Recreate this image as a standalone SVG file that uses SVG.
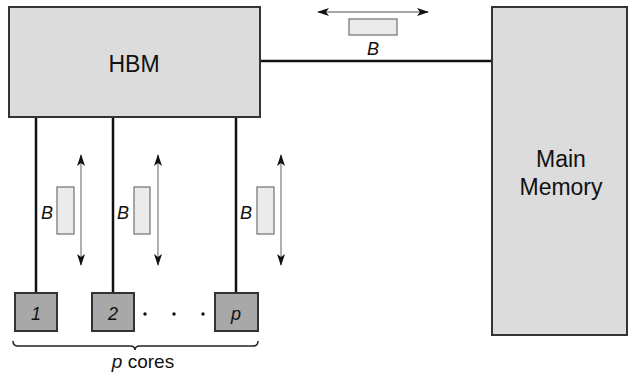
<svg xmlns="http://www.w3.org/2000/svg" width="628" height="373" viewBox="0 0 628 373">
<style>
.big{fill:#dcdcdc;stroke:#333;stroke-width:2}
.core{fill:#a8a8a8;stroke:#333;stroke-width:2}
.pkt{fill:#ebebeb;stroke:#7a7a7a;stroke-width:1.3}
.wire{stroke:#111;stroke-width:2.5;fill:none}
.arr{stroke:#888;stroke-width:1.3;fill:none}
.lbl{font-family:"Liberation Sans",Arial,sans-serif;fill:#111}
.it{font-style:italic}
</style>
<defs>
<marker id="ah" viewBox="0 0 12 10" refX="11" refY="5" markerWidth="12" markerHeight="10" markerUnits="userSpaceOnUse" orient="auto-start-reverse">
<path d="M0,1 L12,5 L0,9 L3,5 z" fill="#111"/>
</marker>
</defs>
<rect width="628" height="373" fill="#fff"/>
<g id="connectors">
<line class="wire" x1="260" y1="61" x2="492" y2="61"/>
<line class="wire" x1="36" y1="117" x2="36" y2="293"/>
<line class="wire" x1="113" y1="117" x2="113" y2="293"/>
<line class="wire" x1="236" y1="117" x2="236" y2="293"/>
<line class="arr" x1="318" y1="12" x2="428" y2="12" marker-start="url(#ah)" marker-end="url(#ah)"/>
<rect class="pkt" x="349" y="19" width="48" height="16"/>
<text class="lbl it" x="373" y="55" font-size="18" text-anchor="middle">B</text>
<line class="arr" x1="81" y1="155" x2="81" y2="265" marker-start="url(#ah)" marker-end="url(#ah)"/>
<rect class="pkt" x="57" y="187" width="17" height="47"/>
<text class="lbl it" x="47" y="219" font-size="18" text-anchor="middle">B</text>
<line class="arr" x1="158" y1="155" x2="158" y2="265" marker-start="url(#ah)" marker-end="url(#ah)"/>
<rect class="pkt" x="134" y="187" width="16" height="47"/>
<text class="lbl it" x="123" y="219" font-size="18" text-anchor="middle">B</text>
<line class="arr" x1="281" y1="155" x2="281" y2="265" marker-start="url(#ah)" marker-end="url(#ah)"/>
<rect class="pkt" x="257" y="187" width="17" height="47"/>
<text class="lbl it" x="246" y="219" font-size="18" text-anchor="middle">B</text>
</g>
<g id="hbm">
<rect class="big" x="9" y="7" width="251" height="110"/>
<text class="lbl" x="134" y="72" font-size="23" text-anchor="middle">HBM</text>
</g>
<g id="main-memory">
<rect class="big" x="492" y="7" width="135" height="328"/>
<text class="lbl" x="561" y="167" font-size="23" text-anchor="middle">Main</text>
<text class="lbl" x="561" y="195" font-size="23" text-anchor="middle">Memory</text>
</g>
<g id="core1">
<rect class="core" x="15" y="293" width="42" height="38"/>
<text class="lbl it" x="36" y="320" font-size="18" text-anchor="middle">1</text>
</g>
<g id="core2">
<rect class="core" x="92" y="293" width="42" height="38"/>
<text class="lbl it" x="113" y="320" font-size="18" text-anchor="middle">2</text>
</g>
<g id="corep">
<rect class="core" x="215" y="293" width="43" height="38"/>
<text class="lbl it" x="236" y="320" font-size="18" text-anchor="middle">p</text>
</g>
<g id="dots" fill="#111">
<circle cx="145" cy="314" r="1.7"/>
<circle cx="174" cy="314" r="1.7"/>
<circle cx="203" cy="314" r="1.7"/>
</g>
<g id="brace">
<path d="M13,341 Q13,346 18,346 L130,346 Q135,346 135,350 Q135,346 140,346 L253,346 Q258,346 258,341" fill="none" stroke="#222" stroke-width="1.5"/>
<text class="lbl" x="143" y="368" font-size="19" text-anchor="middle"><tspan class="it">p</tspan> cores</text>
</g>
</svg>
